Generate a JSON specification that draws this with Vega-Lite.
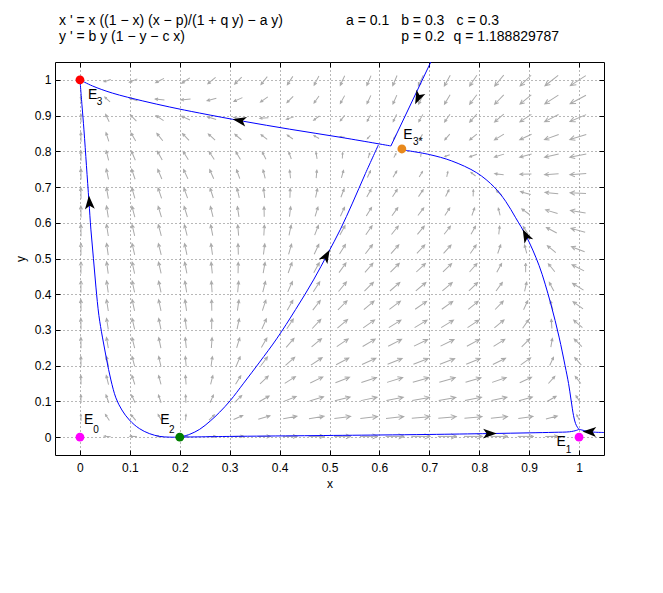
{
"$schema":"https://vega.github.io/schema/vega-lite/v6.json",
"width":549,"height":393,
"autosize":{"type":"none"},
"padding":{"left":55,"top":62,"right":59,"bottom":138},
"background":"white",
"config":{"view":{"stroke":"black","strokeWidth":1},"font":"Liberation Sans"},
"resolve":{"axis":{"x":"independent","y":"independent"}},
"datasets":{
"field":[
{"x":0.002,"y":0.002,"a":-42,"l":2.3},{"x":0.055,"y":0.002,"a":-86,"l":6.7},{"x":0.107,"y":0.002,"a":-87,"l":7.1},{"x":0.16,"y":0.002,"a":-85,"l":5.9},{"x":0.212,"y":0.002,"a":76,"l":3.9},{"x":0.264,"y":0.002,"a":88,"l":8.2},{"x":0.317,"y":0.002,"a":89,"l":10.8},{"x":0.369,"y":0.002,"a":90,"l":12.9},{"x":0.421,"y":0.002,"a":90,"l":14.7},{"x":0.474,"y":0.002,"a":90,"l":16.2},{"x":0.526,"y":0.002,"a":90,"l":17.3},{"x":0.579,"y":0.002,"a":90,"l":18.2},{"x":0.631,"y":0.002,"a":90,"l":18.8},{"x":0.683,"y":0.002,"a":90,"l":19.2},{"x":0.736,"y":0.002,"a":90,"l":19.1},{"x":0.788,"y":0.002,"a":90,"l":18.7},{"x":0.84,"y":0.002,"a":90,"l":17.7},{"x":0.893,"y":0.002,"a":90,"l":16},{"x":0.945,"y":0.002,"a":89,"l":12.8},{"x":0.998,"y":0.002,"a":78,"l":3.6},
{"x":0.002,"y":0.055,"a":-2,"l":6.4},{"x":0.055,"y":0.055,"a":-34,"l":7.2},{"x":0.107,"y":0.055,"a":-40,"l":7.5},{"x":0.16,"y":0.055,"a":-30,"l":6.9},{"x":0.212,"y":0.055,"a":4,"l":6.2},{"x":0.264,"y":0.055,"a":45,"l":7.8},{"x":0.317,"y":0.055,"a":66,"l":10.2},{"x":0.369,"y":0.055,"a":74,"l":12.3},{"x":0.421,"y":0.055,"a":79,"l":14.1},{"x":0.474,"y":0.055,"a":81,"l":15.5},{"x":0.526,"y":0.055,"a":83,"l":16.6},{"x":0.579,"y":0.055,"a":84,"l":17.5},{"x":0.631,"y":0.055,"a":84,"l":18.1},{"x":0.683,"y":0.055,"a":85,"l":18.4},{"x":0.736,"y":0.055,"a":85,"l":18.3},{"x":0.788,"y":0.055,"a":85,"l":17.9},{"x":0.84,"y":0.055,"a":84,"l":16.9},{"x":0.893,"y":0.055,"a":82,"l":15},{"x":0.945,"y":0.055,"a":76,"l":11.8},{"x":0.998,"y":0.055,"a":-26,"l":5.9},
{"x":0.002,"y":0.107,"a":-1,"l":8.2},{"x":0.055,"y":0.107,"a":-20,"l":8.5},{"x":0.107,"y":0.107,"a":-25,"l":8.6},{"x":0.16,"y":0.107,"a":-19,"l":8.3},{"x":0.212,"y":0.107,"a":-2,"l":8},{"x":0.264,"y":0.107,"a":24,"l":8.4},{"x":0.317,"y":0.107,"a":46,"l":9.9},{"x":0.369,"y":0.107,"a":60,"l":11.7},{"x":0.421,"y":0.107,"a":68,"l":13.4},{"x":0.474,"y":0.107,"a":73,"l":14.8},{"x":0.526,"y":0.107,"a":76,"l":15.9},{"x":0.579,"y":0.107,"a":78,"l":16.8},{"x":0.631,"y":0.107,"a":79,"l":17.4},{"x":0.683,"y":0.107,"a":80,"l":17.7},{"x":0.736,"y":0.107,"a":80,"l":17.6},{"x":0.788,"y":0.107,"a":79,"l":17.1},{"x":0.84,"y":0.107,"a":78,"l":16},{"x":0.893,"y":0.107,"a":74,"l":14.1},{"x":0.945,"y":0.107,"a":60,"l":10.6},{"x":0.998,"y":0.107,"a":-33,"l":7.8},
{"x":0.002,"y":0.16,"a":-1,"l":9.4},{"x":0.055,"y":0.16,"a":-14,"l":9.5},{"x":0.107,"y":0.16,"a":-18,"l":9.6},{"x":0.16,"y":0.16,"a":-15,"l":9.3},{"x":0.212,"y":0.16,"a":-4,"l":9.1},{"x":0.264,"y":0.16,"a":14,"l":9.2},{"x":0.317,"y":0.16,"a":32,"l":10},{"x":0.369,"y":0.16,"a":47,"l":11.4},{"x":0.421,"y":0.16,"a":58,"l":12.8},{"x":0.474,"y":0.16,"a":64,"l":14.2},{"x":0.526,"y":0.16,"a":69,"l":15.3},{"x":0.579,"y":0.16,"a":72,"l":16.1},{"x":0.631,"y":0.16,"a":73,"l":16.6},{"x":0.683,"y":0.16,"a":74,"l":16.9},{"x":0.736,"y":0.16,"a":74,"l":16.8},{"x":0.788,"y":0.16,"a":74,"l":16.2},{"x":0.84,"y":0.16,"a":71,"l":15.1},{"x":0.893,"y":0.16,"a":65,"l":13.2},{"x":0.945,"y":0.16,"a":42,"l":9.7},{"x":0.998,"y":0.16,"a":-38,"l":9.2},
{"x":0.002,"y":0.212,"a":-1,"l":10.2},{"x":0.055,"y":0.212,"a":-12,"l":10.3},{"x":0.107,"y":0.212,"a":-15,"l":10.3},{"x":0.16,"y":0.212,"a":-13,"l":10.2},{"x":0.212,"y":0.212,"a":-5,"l":9.9},{"x":0.264,"y":0.212,"a":8,"l":9.9},{"x":0.317,"y":0.212,"a":23,"l":10.3},{"x":0.369,"y":0.212,"a":37,"l":11.2},{"x":0.421,"y":0.212,"a":49,"l":12.4},{"x":0.474,"y":0.212,"a":57,"l":13.6},{"x":0.526,"y":0.212,"a":62,"l":14.6},{"x":0.579,"y":0.212,"a":66,"l":15.4},{"x":0.631,"y":0.212,"a":68,"l":15.9},{"x":0.683,"y":0.212,"a":69,"l":16.1},{"x":0.736,"y":0.212,"a":69,"l":16},{"x":0.788,"y":0.212,"a":68,"l":15.4},{"x":0.84,"y":0.212,"a":64,"l":14.3},{"x":0.893,"y":0.212,"a":55,"l":12.2},{"x":0.945,"y":0.212,"a":25,"l":9.2},{"x":0.998,"y":0.212,"a":-41,"l":10.2},
{"x":0.002,"y":0.264,"a":-1,"l":10.9},{"x":0.055,"y":0.264,"a":-10,"l":10.9},{"x":0.107,"y":0.264,"a":-14,"l":10.9},{"x":0.16,"y":0.264,"a":-12,"l":10.8},{"x":0.212,"y":0.264,"a":-6,"l":10.5},{"x":0.264,"y":0.264,"a":4,"l":10.4},{"x":0.317,"y":0.264,"a":17,"l":10.6},{"x":0.369,"y":0.264,"a":30,"l":11.2},{"x":0.421,"y":0.264,"a":41,"l":12.1},{"x":0.474,"y":0.264,"a":50,"l":13.1},{"x":0.526,"y":0.264,"a":56,"l":14},{"x":0.579,"y":0.264,"a":60,"l":14.7},{"x":0.631,"y":0.264,"a":63,"l":15.2},{"x":0.683,"y":0.264,"a":64,"l":15.4},{"x":0.736,"y":0.264,"a":64,"l":15.2},{"x":0.788,"y":0.264,"a":62,"l":14.6},{"x":0.84,"y":0.264,"a":58,"l":13.4},{"x":0.893,"y":0.264,"a":45,"l":11.4},{"x":0.945,"y":0.264,"a":10,"l":9},{"x":0.998,"y":0.264,"a":-45,"l":11},
{"x":0.002,"y":0.317,"a":-1,"l":11.3},{"x":0.055,"y":0.317,"a":-9,"l":11.3},{"x":0.107,"y":0.317,"a":-13,"l":11.4},{"x":0.16,"y":0.317,"a":-12,"l":11.2},{"x":0.212,"y":0.317,"a":-7,"l":11},{"x":0.264,"y":0.317,"a":1,"l":10.8},{"x":0.317,"y":0.317,"a":12,"l":10.8},{"x":0.369,"y":0.317,"a":24,"l":11.2},{"x":0.421,"y":0.317,"a":34,"l":11.9},{"x":0.474,"y":0.317,"a":43,"l":12.7},{"x":0.526,"y":0.317,"a":50,"l":13.5},{"x":0.579,"y":0.317,"a":55,"l":14.1},{"x":0.631,"y":0.317,"a":58,"l":14.5},{"x":0.683,"y":0.317,"a":59,"l":14.7},{"x":0.736,"y":0.317,"a":59,"l":14.5},{"x":0.788,"y":0.317,"a":57,"l":13.8},{"x":0.84,"y":0.317,"a":51,"l":12.6},{"x":0.893,"y":0.317,"a":35,"l":10.6},{"x":0.945,"y":0.317,"a":-4,"l":9.2},{"x":0.998,"y":0.317,"a":-49,"l":11.8},
{"x":0.002,"y":0.369,"a":-1,"l":11.7},{"x":0.055,"y":0.369,"a":-9,"l":11.7},{"x":0.107,"y":0.369,"a":-12,"l":11.7},{"x":0.16,"y":0.369,"a":-12,"l":11.5},{"x":0.212,"y":0.369,"a":-8,"l":11.3},{"x":0.264,"y":0.369,"a":-1,"l":11.1},{"x":0.317,"y":0.369,"a":8,"l":11},{"x":0.369,"y":0.369,"a":18,"l":11.2},{"x":0.421,"y":0.369,"a":29,"l":11.7},{"x":0.474,"y":0.369,"a":38,"l":12.3},{"x":0.526,"y":0.369,"a":45,"l":13},{"x":0.579,"y":0.369,"a":50,"l":13.5},{"x":0.631,"y":0.369,"a":53,"l":13.9},{"x":0.683,"y":0.369,"a":55,"l":14},{"x":0.736,"y":0.369,"a":54,"l":13.7},{"x":0.788,"y":0.369,"a":51,"l":13},{"x":0.84,"y":0.369,"a":44,"l":11.8},{"x":0.893,"y":0.369,"a":25,"l":10},{"x":0.945,"y":0.369,"a":-16,"l":9.5},{"x":0.998,"y":0.369,"a":-54,"l":12.5},
{"x":0.002,"y":0.421,"a":0,"l":11.9},{"x":0.055,"y":0.421,"a":-8,"l":11.9},{"x":0.107,"y":0.421,"a":-12,"l":11.8},{"x":0.16,"y":0.421,"a":-12,"l":11.7},{"x":0.212,"y":0.421,"a":-9,"l":11.5},{"x":0.264,"y":0.421,"a":-4,"l":11.2},{"x":0.317,"y":0.421,"a":5,"l":11.1},{"x":0.369,"y":0.421,"a":14,"l":11.2},{"x":0.421,"y":0.421,"a":24,"l":11.5},{"x":0.474,"y":0.421,"a":33,"l":12},{"x":0.526,"y":0.421,"a":40,"l":12.5},{"x":0.579,"y":0.421,"a":45,"l":12.9},{"x":0.631,"y":0.421,"a":49,"l":13.2},{"x":0.683,"y":0.421,"a":50,"l":13.3},{"x":0.736,"y":0.421,"a":50,"l":13},{"x":0.788,"y":0.421,"a":46,"l":12.2},{"x":0.84,"y":0.421,"a":36,"l":10.9},{"x":0.893,"y":0.421,"a":13,"l":9.5},{"x":0.945,"y":0.421,"a":-28,"l":9.9},{"x":0.998,"y":0.421,"a":-58,"l":13.1},
{"x":0.002,"y":0.474,"a":0,"l":12},{"x":0.055,"y":0.474,"a":-8,"l":12},{"x":0.107,"y":0.474,"a":-12,"l":11.9},{"x":0.16,"y":0.474,"a":-13,"l":11.8},{"x":0.212,"y":0.474,"a":-11,"l":11.6},{"x":0.264,"y":0.474,"a":-6,"l":11.3},{"x":0.317,"y":0.474,"a":1,"l":11.1},{"x":0.369,"y":0.474,"a":10,"l":11.1},{"x":0.421,"y":0.474,"a":20,"l":11.2},{"x":0.474,"y":0.474,"a":29,"l":11.6},{"x":0.526,"y":0.474,"a":36,"l":12},{"x":0.579,"y":0.474,"a":41,"l":12.3},{"x":0.631,"y":0.474,"a":45,"l":12.6},{"x":0.683,"y":0.474,"a":47,"l":12.5},{"x":0.736,"y":0.474,"a":46,"l":12.2},{"x":0.788,"y":0.474,"a":41,"l":11.4},{"x":0.84,"y":0.474,"a":29,"l":10.1},{"x":0.893,"y":0.474,"a":0,"l":9},{"x":0.945,"y":0.474,"a":-39,"l":10.4},{"x":0.998,"y":0.474,"a":-63,"l":13.7},
{"x":0.002,"y":0.526,"a":0,"l":12},{"x":0.055,"y":0.526,"a":-8,"l":12},{"x":0.107,"y":0.526,"a":-13,"l":11.9},{"x":0.16,"y":0.526,"a":-14,"l":11.8},{"x":0.212,"y":0.526,"a":-12,"l":11.6},{"x":0.264,"y":0.526,"a":-8,"l":11.3},{"x":0.317,"y":0.526,"a":-2,"l":11},{"x":0.369,"y":0.526,"a":7,"l":10.9},{"x":0.421,"y":0.526,"a":16,"l":10.9},{"x":0.474,"y":0.526,"a":25,"l":11.1},{"x":0.526,"y":0.526,"a":32,"l":11.4},{"x":0.579,"y":0.526,"a":38,"l":11.7},{"x":0.631,"y":0.526,"a":42,"l":11.8},{"x":0.683,"y":0.526,"a":43,"l":11.7},{"x":0.736,"y":0.526,"a":42,"l":11.3},{"x":0.788,"y":0.526,"a":35,"l":10.4},{"x":0.84,"y":0.526,"a":19,"l":9.2},{"x":0.893,"y":0.526,"a":-15,"l":8.8},{"x":0.945,"y":0.526,"a":-50,"l":11.1},{"x":0.998,"y":0.526,"a":-69,"l":14.3},
{"x":0.002,"y":0.579,"a":-1,"l":11.9},{"x":0.055,"y":0.579,"a":-9,"l":11.8},{"x":0.107,"y":0.579,"a":-13,"l":11.8},{"x":0.16,"y":0.579,"a":-15,"l":11.7},{"x":0.212,"y":0.579,"a":-14,"l":11.4},{"x":0.264,"y":0.579,"a":-11,"l":11.1},{"x":0.317,"y":0.579,"a":-5,"l":10.8},{"x":0.369,"y":0.579,"a":3,"l":10.5},{"x":0.421,"y":0.579,"a":12,"l":10.5},{"x":0.474,"y":0.579,"a":21,"l":10.6},{"x":0.526,"y":0.579,"a":29,"l":10.8},{"x":0.579,"y":0.579,"a":35,"l":11},{"x":0.631,"y":0.579,"a":39,"l":11},{"x":0.683,"y":0.579,"a":40,"l":10.8},{"x":0.736,"y":0.579,"a":38,"l":10.3},{"x":0.788,"y":0.579,"a":29,"l":9.4},{"x":0.84,"y":0.579,"a":6,"l":8.3},{"x":0.893,"y":0.579,"a":-33,"l":8.9},{"x":0.945,"y":0.579,"a":-62,"l":11.8},{"x":0.998,"y":0.579,"a":-75,"l":14.9},
{"x":0.002,"y":0.631,"a":-1,"l":11.7},{"x":0.055,"y":0.631,"a":-9,"l":11.6},{"x":0.107,"y":0.631,"a":-15,"l":11.6},{"x":0.16,"y":0.631,"a":-17,"l":11.4},{"x":0.212,"y":0.631,"a":-17,"l":11.2},{"x":0.264,"y":0.631,"a":-14,"l":10.9},{"x":0.317,"y":0.631,"a":-9,"l":10.5},{"x":0.369,"y":0.631,"a":-1,"l":10.1},{"x":0.421,"y":0.631,"a":7,"l":10},{"x":0.474,"y":0.631,"a":17,"l":9.9},{"x":0.526,"y":0.631,"a":25,"l":10},{"x":0.579,"y":0.631,"a":32,"l":10.1},{"x":0.631,"y":0.631,"a":36,"l":10.1},{"x":0.683,"y":0.631,"a":37,"l":9.8},{"x":0.736,"y":0.631,"a":33,"l":9.1},{"x":0.788,"y":0.631,"a":20,"l":8.1},{"x":0.84,"y":0.631,"a":-14,"l":7.6},{"x":0.893,"y":0.631,"a":-54,"l":9.6},{"x":0.945,"y":0.631,"a":-73,"l":12.7},{"x":0.998,"y":0.631,"a":-81,"l":15.5},
{"x":0.002,"y":0.683,"a":-1,"l":11.3},{"x":0.055,"y":0.683,"a":-10,"l":11.3},{"x":0.107,"y":0.683,"a":-16,"l":11.2},{"x":0.16,"y":0.683,"a":-19,"l":11.1},{"x":0.212,"y":0.683,"a":-20,"l":10.8},{"x":0.264,"y":0.683,"a":-18,"l":10.4},{"x":0.317,"y":0.683,"a":-13,"l":10.1},{"x":0.369,"y":0.683,"a":-7,"l":9.6},{"x":0.421,"y":0.683,"a":2,"l":9.3},{"x":0.474,"y":0.683,"a":12,"l":9.1},{"x":0.526,"y":0.683,"a":21,"l":9},{"x":0.579,"y":0.683,"a":29,"l":9},{"x":0.631,"y":0.683,"a":33,"l":8.9},{"x":0.683,"y":0.683,"a":34,"l":8.5},{"x":0.736,"y":0.683,"a":27,"l":7.6},{"x":0.788,"y":0.683,"a":2,"l":6.6},{"x":0.84,"y":0.683,"a":-47,"l":7.7},{"x":0.893,"y":0.683,"a":-74,"l":10.7},{"x":0.945,"y":0.683,"a":-84,"l":13.5},{"x":0.998,"y":0.683,"a":-88,"l":16.1},
{"x":0.002,"y":0.736,"a":-1,"l":10.9},{"x":0.055,"y":0.736,"a":-12,"l":10.9},{"x":0.107,"y":0.736,"a":-19,"l":10.8},{"x":0.16,"y":0.736,"a":-23,"l":10.6},{"x":0.212,"y":0.736,"a":-25,"l":10.4},{"x":0.264,"y":0.736,"a":-24,"l":10},{"x":0.317,"y":0.736,"a":-20,"l":9.5},{"x":0.369,"y":0.736,"a":-14,"l":9},{"x":0.421,"y":0.736,"a":-6,"l":8.4},{"x":0.474,"y":0.736,"a":5,"l":8},{"x":0.526,"y":0.736,"a":16,"l":7.8},{"x":0.579,"y":0.736,"a":25,"l":7.6},{"x":0.631,"y":0.736,"a":31,"l":7.3},{"x":0.683,"y":0.736,"a":31,"l":6.6},{"x":0.736,"y":0.736,"a":12,"l":5.4},{"x":0.788,"y":0.736,"a":-52,"l":6},{"x":0.84,"y":0.736,"a":-83,"l":9.1},{"x":0.893,"y":0.736,"a":-91,"l":11.7},{"x":0.945,"y":0.736,"a":-94,"l":14.2},{"x":0.998,"y":0.736,"a":-94,"l":16.6},
{"x":0.002,"y":0.788,"a":-1,"l":10.2},{"x":0.055,"y":0.788,"a":-14,"l":10.2},{"x":0.107,"y":0.788,"a":-23,"l":10.2},{"x":0.16,"y":0.788,"a":-29,"l":10.1},{"x":0.212,"y":0.788,"a":-32,"l":9.9},{"x":0.264,"y":0.788,"a":-33,"l":9.5},{"x":0.317,"y":0.788,"a":-31,"l":9},{"x":0.369,"y":0.788,"a":-27,"l":8.2},{"x":0.421,"y":0.788,"a":-20,"l":7.4},{"x":0.474,"y":0.788,"a":-10,"l":6.7},{"x":0.526,"y":0.788,"a":3,"l":5.9},{"x":0.579,"y":0.788,"a":18,"l":5.4},{"x":0.631,"y":0.788,"a":28,"l":4.6},{"x":0.683,"y":0.788,"a":8,"l":2.6},{"x":0.736,"y":0.788,"a":-110,"l":5.3},{"x":0.788,"y":0.788,"a":-110,"l":7.9},{"x":0.84,"y":0.788,"a":-107,"l":10.2},{"x":0.893,"y":0.788,"a":-105,"l":12.5},{"x":0.945,"y":0.788,"a":-103,"l":14.7},{"x":0.998,"y":0.788,"a":-101,"l":17},
{"x":0.002,"y":0.84,"a":-1,"l":9.4},{"x":0.055,"y":0.84,"a":-18,"l":9.3},{"x":0.107,"y":0.84,"a":-30,"l":9.5},{"x":0.16,"y":0.84,"a":-39,"l":9.6},{"x":0.212,"y":0.84,"a":-44,"l":9.5},{"x":0.264,"y":0.84,"a":-48,"l":9.2},{"x":0.317,"y":0.84,"a":-50,"l":8.6},{"x":0.369,"y":0.84,"a":-52,"l":7.9},{"x":0.421,"y":0.84,"a":-55,"l":7},{"x":0.474,"y":0.84,"a":-61,"l":5.9},{"x":0.526,"y":0.84,"a":-85,"l":4.9},{"x":0.579,"y":0.84,"a":-136,"l":4.4},{"x":0.631,"y":0.84,"a":-152,"l":5.2},{"x":0.683,"y":0.84,"a":-148,"l":6.3},{"x":0.736,"y":0.84,"a":-139,"l":7.7},{"x":0.788,"y":0.84,"a":-129,"l":9.4},{"x":0.84,"y":0.84,"a":-121,"l":11.2},{"x":0.893,"y":0.84,"a":-115,"l":13.2},{"x":0.945,"y":0.84,"a":-110,"l":15.3},{"x":0.998,"y":0.84,"a":-107,"l":17.4},
{"x":0.002,"y":0.893,"a":-1,"l":8.2},{"x":0.055,"y":0.893,"a":-26,"l":8.3},{"x":0.107,"y":0.893,"a":-44,"l":8.8},{"x":0.16,"y":0.893,"a":-56,"l":9.2},{"x":0.212,"y":0.893,"a":-65,"l":9.4},{"x":0.264,"y":0.893,"a":-73,"l":9.4},{"x":0.317,"y":0.893,"a":-82,"l":9},{"x":0.369,"y":0.893,"a":-93,"l":8.6},{"x":0.421,"y":0.893,"a":-108,"l":7.9},{"x":0.474,"y":0.893,"a":-126,"l":7.3},{"x":0.526,"y":0.893,"a":-142,"l":7.1},{"x":0.579,"y":0.893,"a":-152,"l":7.4},{"x":0.631,"y":0.893,"a":-154,"l":7.9},{"x":0.683,"y":0.893,"a":-151,"l":8.6},{"x":0.736,"y":0.893,"a":-145,"l":9.6},{"x":0.788,"y":0.893,"a":-138,"l":10.8},{"x":0.84,"y":0.893,"a":-130,"l":12.2},{"x":0.893,"y":0.893,"a":-123,"l":13.9},{"x":0.945,"y":0.893,"a":-117,"l":15.8},{"x":0.998,"y":0.893,"a":-113,"l":17.8},
{"x":0.002,"y":0.945,"a":-2,"l":6.4},{"x":0.055,"y":0.945,"a":-48,"l":7.2},{"x":0.107,"y":0.945,"a":-72,"l":8.6},{"x":0.16,"y":0.945,"a":-85,"l":9.4},{"x":0.212,"y":0.945,"a":-95,"l":9.7},{"x":0.264,"y":0.945,"a":-105,"l":9.7},{"x":0.317,"y":0.945,"a":-114,"l":9.4},{"x":0.369,"y":0.945,"a":-125,"l":9.1},{"x":0.421,"y":0.945,"a":-135,"l":8.9},{"x":0.474,"y":0.945,"a":-145,"l":8.8},{"x":0.526,"y":0.945,"a":-151,"l":9},{"x":0.579,"y":0.945,"a":-155,"l":9.3},{"x":0.631,"y":0.945,"a":-156,"l":9.8},{"x":0.683,"y":0.945,"a":-153,"l":10.4},{"x":0.736,"y":0.945,"a":-149,"l":11.1},{"x":0.788,"y":0.945,"a":-143,"l":12.1},{"x":0.84,"y":0.945,"a":-136,"l":13.3},{"x":0.893,"y":0.945,"a":-129,"l":14.7},{"x":0.945,"y":0.945,"a":-123,"l":16.4},{"x":0.998,"y":0.945,"a":-118,"l":18.2},
{"x":0.002,"y":0.998,"a":-52,"l":2.2},{"x":0.055,"y":0.998,"a":-109,"l":7.1},{"x":0.107,"y":0.998,"a":-113,"l":8.7},{"x":0.16,"y":0.998,"a":-118,"l":9.5},{"x":0.212,"y":0.998,"a":-123,"l":9.9},{"x":0.264,"y":0.998,"a":-129,"l":10.1},{"x":0.317,"y":0.998,"a":-135,"l":10.1},{"x":0.369,"y":0.998,"a":-141,"l":10.2},{"x":0.421,"y":0.998,"a":-147,"l":10.2},{"x":0.474,"y":0.998,"a":-152,"l":10.4},{"x":0.526,"y":0.998,"a":-155,"l":10.6},{"x":0.579,"y":0.998,"a":-157,"l":10.9},{"x":0.631,"y":0.998,"a":-157,"l":11.3},{"x":0.683,"y":0.998,"a":-155,"l":11.8},{"x":0.736,"y":0.998,"a":-151,"l":12.4},{"x":0.788,"y":0.998,"a":-146,"l":13.2},{"x":0.84,"y":0.998,"a":-140,"l":14.3},{"x":0.893,"y":0.998,"a":-134,"l":15.5},{"x":0.945,"y":0.998,"a":-128,"l":17},{"x":0.998,"y":0.998,"a":-123,"l":18.7}
],
"traj":[
{"c":1,"i":0,"x":0.2,"y":0},{"c":1,"i":1,"x":0.18,"y":0},{"c":1,"i":2,"x":0.16,"y":0.002},{"c":1,"i":3,"x":0.139,"y":0.01},{"c":1,"i":4,"x":0.119,"y":0.024},{"c":1,"i":5,"x":0.099,"y":0.048},{"c":1,"i":6,"x":0.084,"y":0.076},{"c":1,"i":7,"x":0.072,"y":0.11},{"c":1,"i":8,"x":0.062,"y":0.16},{"c":1,"i":9,"x":0.053,"y":0.22},{"c":1,"i":10,"x":0.045,"y":0.28},{"c":1,"i":11,"x":0.038,"y":0.34},{"c":1,"i":12,"x":0.032,"y":0.42},{"c":1,"i":13,"x":0.027,"y":0.5},{"c":1,"i":14,"x":0.022,"y":0.58},{"c":1,"i":15,"x":0.018,"y":0.66},{"c":1,"i":16,"x":0.013,"y":0.76},{"c":1,"i":17,"x":0.008,"y":0.86},{"c":1,"i":18,"x":0.004,"y":0.93},{"c":1,"i":19,"x":0,"y":1},
{"c":2,"i":0,"x":0.2,"y":0},{"c":2,"i":1,"x":0.22,"y":0.008},{"c":2,"i":2,"x":0.24,"y":0.022},{"c":2,"i":3,"x":0.261,"y":0.045},{"c":2,"i":4,"x":0.28,"y":0.07},{"c":2,"i":5,"x":0.301,"y":0.102},{"c":2,"i":6,"x":0.328,"y":0.151},{"c":2,"i":7,"x":0.36,"y":0.21},{"c":2,"i":8,"x":0.394,"y":0.275},{"c":2,"i":9,"x":0.432,"y":0.357},{"c":2,"i":10,"x":0.468,"y":0.44},{"c":2,"i":11,"x":0.497,"y":0.515},{"c":2,"i":12,"x":0.522,"y":0.582},{"c":2,"i":13,"x":0.546,"y":0.655},{"c":2,"i":14,"x":0.572,"y":0.738},{"c":2,"i":15,"x":0.598,"y":0.818},
{"c":3,"i":0,"x":0.703,"y":1.05},{"c":3,"i":1,"x":0.623,"y":0.815},
{"c":7,"i":0,"x":0.623,"y":0.815},{"c":7,"i":1,"x":0.523,"y":0.839},{"c":7,"i":2,"x":0.42,"y":0.862},{"c":7,"i":3,"x":0.328,"y":0.884},{"c":7,"i":4,"x":0.24,"y":0.907},{"c":7,"i":5,"x":0.18,"y":0.924},{"c":7,"i":6,"x":0.126,"y":0.941},{"c":7,"i":7,"x":0.065,"y":0.963},{"c":7,"i":8,"x":0.025,"y":0.983},{"c":7,"i":9,"x":0,"y":1},
{"c":4,"i":0,"x":0.651,"y":0.803},{"c":4,"i":1,"x":0.7,"y":0.791},{"c":4,"i":2,"x":0.745,"y":0.773},{"c":4,"i":3,"x":0.795,"y":0.74},{"c":4,"i":4,"x":0.83,"y":0.7},{"c":4,"i":5,"x":0.853,"y":0.66},{"c":4,"i":6,"x":0.873,"y":0.614},{"c":4,"i":7,"x":0.894,"y":0.563},{"c":4,"i":8,"x":0.92,"y":0.48},{"c":4,"i":9,"x":0.943,"y":0.375},{"c":4,"i":10,"x":0.96,"y":0.28},{"c":4,"i":11,"x":0.972,"y":0.2},{"c":4,"i":12,"x":0.979,"y":0.15},{"c":4,"i":13,"x":0.984,"y":0.104},{"c":4,"i":14,"x":0.989,"y":0.06},{"c":4,"i":15,"x":0.993,"y":0.038},{"c":4,"i":16,"x":0.997,"y":0.027},{"c":4,"i":17,"x":1,"y":0.022},
{"c":5,"i":0,"x":0.2,"y":0},{"c":5,"i":1,"x":0.3,"y":0.002},{"c":5,"i":2,"x":0.45,"y":0.004},{"c":5,"i":3,"x":0.6,"y":0.006},{"c":5,"i":4,"x":0.7,"y":0.0075},{"c":5,"i":5,"x":0.82,"y":0.01},{"c":5,"i":6,"x":0.9,"y":0.012},{"c":5,"i":7,"x":0.95,"y":0.0135},{"c":5,"i":8,"x":0.981,"y":0.015},{"c":5,"i":9,"x":0.995,"y":0.019},{"c":5,"i":10,"x":1,"y":0.022},
{"c":6,"i":0,"x":1.05,"y":0.013},{"c":6,"i":1,"x":1.03,"y":0.014},{"c":6,"i":2,"x":1.015,"y":0.017},{"c":6,"i":3,"x":1,"y":0.022}
],
"heads":[
{"x":0.019,"y":0.655,"a":-4},{"x":0.493,"y":0.506,"a":29},{"x":0.678,"y":0.951,"a":-155},{"x":0.321,"y":0.886,"a":-79},{"x":0.894,"y":0.563,"a":-27},{"x":0.82,"y":0.01,"a":90},{"x":1.022,"y":0.015,"a":-88}
],
"eq":[
{"n":"E0","x":0,"y":0},{"n":"E1","x":1,"y":0},{"n":"E2","x":0.2,"y":0},{"n":"E3","x":0,"y":1},{"n":"E3*","x":0.645,"y":0.8065}
],
"lab":[
{"t":"E","x":0.0175,"y":0.048},{"t":"E","x":0.17,"y":0.048},{"t":"E","x":0.964,"y":-0.014},{"t":"E","x":0.0256,"y":0.957},{"t":"E","x":0.657,"y":0.847}
],
"sub":[
{"t":"0","x":0.032,"y":0.021},{"t":"2","x":0.184,"y":0.021},{"t":"1","x":0.979,"y":-0.037},{"t":"3","x":0.0394,"y":0.938},{"t":"3*","x":0.677,"y":0.825}
],
"hdr":[
{"t":"x ' = x ((1 − x) (x − p)/(1 + q y) − a y)","x":-0.042,"y":1.166},
{"t":"y ' = b y (1 − y − c x)","x":-0.042,"y":1.121},
{"t":"a = 0.1","x":0.533,"y":1.166},
{"t":"b = 0.3","x":0.6436,"y":1.166},
{"t":"c = 0.3","x":0.7545,"y":1.166},
{"t":"p = 0.2","x":0.644,"y":1.121},
{"t":"q = 1.188829787","x":0.7487,"y":1.121}
]
},
"layer":[
{
"data":{"name":"field"},
"mark":{"type":"point","shape":"M0,1L0,-1M-0.28,-0.4L0,-1L0.28,-0.4","filled":false,"color":"#aaaaaa","strokeWidth":1,"opacity":1},
"encoding":{
"x":{"field":"x","type":"quantitative","scale":{"domain":[-0.05,1.05],"nice":false,"zero":false},
"axis":{"orient":"bottom","values":[0,0.1,0.2,0.3,0.4,0.5,0.6,0.7,0.8,0.9,1],"format":"~g","grid":true,"gridColor":"#707070","gridDash":[1,3],"gridWidth":1,"domain":false,"ticks":true,"tickSize":-5,"tickColor":"black","tickWidth":1,"labelPadding":12,"labelFont":"Liberation Sans","labelFontSize":12,"labelColor":"black","labelOverlap":false,"labelFlush":false,"title":"x","titleFont":"Liberation Sans","titleFontSize":12,"titleFontWeight":"normal","titleColor":"black","titlePadding":5}},
"y":{"field":"y","type":"quantitative","scale":{"domain":[-0.05,1.05],"nice":false,"zero":false},
"axis":{"orient":"left","values":[0,0.1,0.2,0.3,0.4,0.5,0.6,0.7,0.8,0.9,1],"format":"~g","grid":true,"gridColor":"#707070","gridDash":[1,3],"gridWidth":1,"domain":false,"ticks":true,"tickSize":-5,"tickColor":"black","tickWidth":1,"labelPadding":9,"labelFont":"Liberation Sans","labelFontSize":12,"labelColor":"black","labelOverlap":false,"labelFlush":false,"title":"y","titleFont":"Liberation Sans","titleFontSize":12,"titleFontWeight":"normal","titleColor":"black","titlePadding":7}},
"angle":{"field":"a","type":"quantitative","scale":null},
"size":{"field":"l","type":"quantitative","scale":{"type":"pow","exponent":2,"domain":[0,20],"range":[0,390]},"legend":null}
}
},
{
"data":{"name":"traj"},
"mark":{"type":"line","color":"#0000ff","strokeWidth":1,"clip":true,"interpolate":"catmull-rom"},
"encoding":{
"x":{"field":"x","type":"quantitative","scale":{"domain":[-0.05,1.05],"nice":false,"zero":false},"axis":null},
"y":{"field":"y","type":"quantitative","scale":{"domain":[-0.05,1.05],"nice":false,"zero":false},"axis":null},
"detail":{"field":"c","type":"nominal"},
"order":{"field":"i","type":"quantitative"}
}
},
{
"data":{"name":"heads"},
"mark":{"type":"point","shape":"M0,-1L0.65,0.8L0,0.35L-0.65,0.8Z","filled":true,"color":"black","opacity":1,"size":230,"strokeWidth":0},
"encoding":{
"x":{"field":"x","type":"quantitative","scale":{"domain":[-0.05,1.05],"nice":false,"zero":false},"axis":null},
"y":{"field":"y","type":"quantitative","scale":{"domain":[-0.05,1.05],"nice":false,"zero":false},"axis":null},
"angle":{"field":"a","type":"quantitative","scale":null}
}
},
{
"data":{"name":"eq"},
"mark":{"type":"point","shape":"circle","filled":true,"opacity":1,"size":78,"strokeWidth":0},
"encoding":{
"x":{"field":"x","type":"quantitative","scale":{"domain":[-0.05,1.05],"nice":false,"zero":false},
"axis":{"orient":"top","values":[0,0.1,0.2,0.3,0.4,0.5,0.6,0.7,0.8,0.9,1],"grid":false,"domain":false,"labels":false,"ticks":true,"tickSize":-5,"tickColor":"black","tickWidth":1,"title":null}},
"y":{"field":"y","type":"quantitative","scale":{"domain":[-0.05,1.05],"nice":false,"zero":false},
"axis":{"orient":"right","values":[0,0.1,0.2,0.3,0.4,0.5,0.6,0.7,0.8,0.9,1],"grid":false,"domain":false,"labels":false,"ticks":true,"tickSize":-5,"tickColor":"black","tickWidth":1,"title":null}},
"color":{"field":"n","type":"nominal","scale":{"domain":["E0","E1","E2","E3","E3*"],"range":["#ff00ff","#ff00ff","#007f00","#ff0000","#e8891c"]},"legend":null}
}
},
{
"data":{"name":"lab"},
"mark":{"type":"text","font":"Liberation Sans","fontSize":14,"align":"center","baseline":"middle","color":"black"},
"encoding":{
"x":{"field":"x","type":"quantitative","scale":{"domain":[-0.05,1.05],"nice":false,"zero":false},"axis":null},
"y":{"field":"y","type":"quantitative","scale":{"domain":[-0.05,1.05],"nice":false,"zero":false},"axis":null},
"text":{"field":"t","type":"nominal"}
}
},
{
"data":{"name":"sub"},
"mark":{"type":"text","font":"Liberation Sans","fontSize":10,"align":"center","baseline":"middle","color":"black"},
"encoding":{
"x":{"field":"x","type":"quantitative","scale":{"domain":[-0.05,1.05],"nice":false,"zero":false},"axis":null},
"y":{"field":"y","type":"quantitative","scale":{"domain":[-0.05,1.05],"nice":false,"zero":false},"axis":null},
"text":{"field":"t","type":"nominal"}
}
},
{
"data":{"name":"hdr"},
"mark":{"type":"text","font":"Liberation Sans","fontSize":14,"align":"left","baseline":"middle","color":"black"},
"encoding":{
"x":{"field":"x","type":"quantitative","scale":{"domain":[-0.05,1.05],"nice":false,"zero":false},"axis":null},
"y":{"field":"y","type":"quantitative","scale":{"domain":[-0.05,1.05],"nice":false,"zero":false},"axis":null},
"text":{"field":"t","type":"nominal"}
}
}
]
}
